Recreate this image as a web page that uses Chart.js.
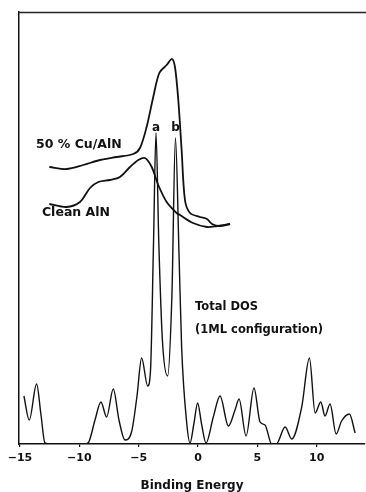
<!DOCTYPE html>
<html>
<head>
<meta charset="utf-8">
<script src="https://cdn.jsdelivr.net/npm/chart.js@4/dist/chart.umd.min.js"></script>
<style>
  html, body { margin: 0; padding: 0; background: #fff; overflow: hidden; }
  canvas { display: block; }
</style>
</head>
<body>
<canvas id="c" width="366" height="492"></canvas>
<script>
// ---- data (binding energy in eV, intensity in arbitrary units) ----
const dosEnergy = [-14.67,-14.22,-13.6,-13.24,-12.9,-12.5,-9.6,-9.25,-8.68,-8.18,-7.7,-7.14,-6.66,-6.15,-5.6,-5.14,-4.75,-4.24,-4.0,-3.75,-3.54,-3.3,-3.0,-2.56,-2.2,-1.9,-1.6,-1.38,-0.95,-0.67,-0.35,-0.03,0.3,0.67,1.29,1.86,2.56,3.12,3.46,4.05,4.72,5.23,5.65,6.21,6.6,7.34,7.9,8.74,9.39,9.87,10.35,10.7,11.13,11.64,12.1,12.76,13.24];
const dosValue  = [12,6,15,7.5,0.3,0,0,0.3,6,10.5,6.75,13.75,6,1,3,12,21.5,14.5,18.5,50,77.75,50,26,17,37,76.5,47.5,24.25,5.25,0.25,5,10.25,5,0.25,6.75,12,4.5,8.5,11.25,2,14,5.5,4.75,0,0,4.25,1.25,9.25,21.5,7.75,10.5,7,10,2.5,5.75,7.5,2.75];

const cuEnergy = [-12.53,-11.09,-9.67,-8.26,-6.86,-5.45,-4.89,-4.33,-3.77,-3.26,-2.64,-2.19,-1.94,-1.66,-1.38,-1.1,-0.67,0.17,0.76,1.18,1.85,2.7];
const cuValue  = [69.25,68.75,69.75,71,71.75,72.5,74,79.25,86.75,92.75,94.75,96.25,94.25,86,73.5,61,57.75,56.75,56.25,55,54.5,55];

const cleanEnergy = [-12.53,-11.09,-9.95,-9.1,-8.4,-7.42,-6.58,-5.73,-5.03,-4.47,-3.9,-3.35,-2.64,-1.8,-1.52,-0.42,0.76,1.6,2.7];
const cleanValue  = [60,59.25,60.5,64,65.5,66,66.75,69.25,71,71.5,69.25,64.75,60.5,57.75,57.25,55.25,54.25,54.5,55];

const tickValues = [-15,-10,-5,0,5,10];
const tickLabels = ['\u221215','\u221210','\u22125','0','5','10'];

const seriesNames = ['Total DOS (1ML configuration)','50 % Cu/AlN','Clean AlN'];

// ---- text annotations ----
const notes = [
  {text:'50 % Cu/AlN', x:-13.65, y:74.75, align:'left', size:12.5},
  {text:'Clean AlN', x:-13.15, y:57.75, align:'left', size:12.5},
  {text:'a', x:-3.54, y:79, align:'center', size:12},
  {text:'b', x:-1.9, y:79, align:'center', size:12},
  {text:'Total DOS', x:-0.25, y:34.25, align:'left', size:11.5},
  {text:'(1ML configuration)', x:-0.25, y:28.5, align:'left', size:11.5}
];

const FONT = "'DejaVu Sans', sans-serif";
const INK = '#111';

const pts = (xs, ys) => xs.map((x, i) => ({x, y: ys[i]}));

const labelPlugin = {
  id: 'textLabels',
  afterDraw(chart) {
    const {ctx, scales, chartArea} = chart;
    ctx.save();
    // keep the right side open (no right frame line)
    ctx.fillStyle = '#fff';
    ctx.fillRect(chartArea.right - 3, chartArea.top + 1, chart.width - chartArea.right + 3, chartArea.bottom - chartArea.top - 2);
    // top frame line
    ctx.strokeStyle = '#222';
    ctx.lineWidth = 1.3;
    ctx.beginPath();
    ctx.moveTo(chartArea.left - 1, chartArea.top + 0.5);
    ctx.lineTo(chart.width, chartArea.top + 0.5);
    ctx.stroke();
    // text labels
    ctx.fillStyle = INK;
    ctx.textBaseline = 'middle';
    for (const n of notes) {
      ctx.font = 'bold ' + n.size + 'px ' + FONT;
      ctx.textAlign = n.align;
      ctx.fillText(n.text, scales.x.getPixelForValue(n.x), scales.y.getPixelForValue(n.y));
    }
    ctx.restore();
  }
};

new Chart(document.getElementById('c'), {
  type: 'line',
  data: {
    datasets: [
      {label: seriesNames[0], data: pts(dosEnergy, dosValue), borderColor: INK, borderWidth: 1.4,
       pointRadius: 0, cubicInterpolationMode: 'monotone', fill: false},
      {label: seriesNames[1], data: pts(cuEnergy, cuValue), borderColor: INK, borderWidth: 1.8,
       pointRadius: 0, tension: 0.3, fill: false},
      {label: seriesNames[2], data: pts(cleanEnergy, cleanValue), borderColor: INK, borderWidth: 1.8,
       pointRadius: 0, tension: 0.3, fill: false}
    ]
  },
  options: {
    responsive: false,
    animation: false,
    layout: {padding: {left: 19, top: 12, right: 1, bottom: 0}, autoPadding: false},
    plugins: {legend: {display: false}, tooltip: {enabled: false}},
    scales: {
      x: {
        type: 'linear', position: 'bottom', min: -15.084, max: 14.073,
        afterBuildTicks: s => { s.ticks = tickValues.map(v => ({value: v})); },
        afterFit: s => { s.height = 48; },
        ticks: {
          padding: 5, color: INK, maxRotation: 0, autoSkip: false,
          font: {family: FONT, size: 11, weight: 'bold'},
          callback: (v) => { const i = tickValues.indexOf(v); return i >= 0 ? tickLabels[i] : ''; }
        },
        grid: {display: true, drawOnChartArea: false, drawTicks: true, tickLength: 3, color: INK, lineWidth: 1.2},
        border: {display: true, color: INK, width: 1.5},
        title: {display: true, text: 'Binding Energy', color: INK,
                font: {family: FONT, size: 12, weight: 'bold', lineHeight: 1}, padding: {top: 0, bottom: 0}}
      },
      y: {
        type: 'linear', position: 'left', min: 0, max: 108,
        afterFit: s => { s.width = 0; },
        ticks: {display: false},
        grid: {display: false},
        border: {display: true, color: INK, width: 1.5}
      }
    }
  },
  plugins: [labelPlugin]
});
</script>
</body>
</html>
